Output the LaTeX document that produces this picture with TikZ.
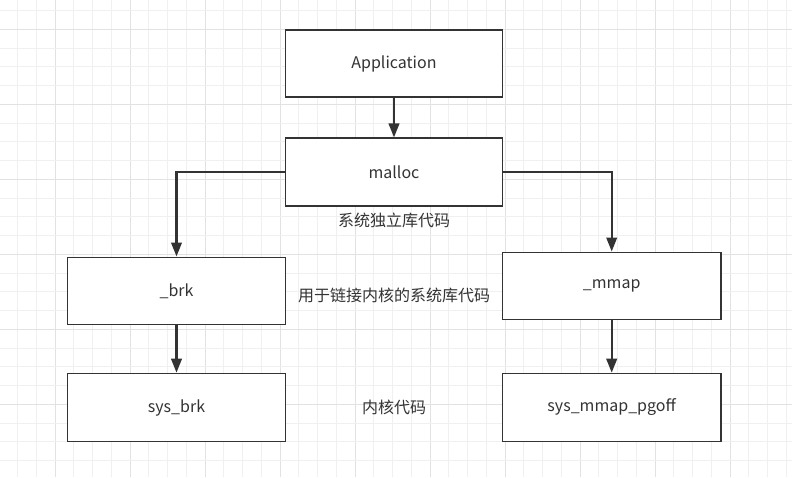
\documentclass[tikz,border=0pt]{standalone}
\usepackage{fontspec}
\newfontfamily\cjk{Noto Sans CJK SC}
\usetikzlibrary{arrows.meta}
\definecolor{ink}{RGB}{51,51,51}
\definecolor{gridminor}{RGB}{240,240,240}
\definecolor{gridmajor}{RGB}{226,226,226}
\tikzset{
  x=1pt, y=-1pt,
  every node/.style={font=\cjk\fontsize{16}{19}\selectfont, text=ink},
  box/.style={draw=ink, line width=1.6pt, fill=white, inner sep=0pt, minimum height=67.5pt},
  conn/.style={draw=ink, line width=2.3pt, -{Triangle[length=14pt,width=10.5pt]}},
  lbl/.style={inner sep=0pt}
}
\begin{document}
\begin{tikzpicture}
\useasboundingbox (0,0) rectangle (792,477);
\fill[white] (0,0) rectangle (792,477);
% grid
\foreach \i in {0,...,42} {
  \pgfmathsetmacro{\gx}{17.5+18.75*\i}
  \pgfmathtruncatemacro{\mj}{mod(\i+2,4)==0 ? 1 : 0}
  \ifnum\mj=1
    \draw[gridmajor, line width=1pt] (\gx,0) -- (\gx,477);
  \else
    \draw[gridminor, line width=1pt] (\gx,0) -- (\gx,477);
  \fi
}
\foreach \i in {0,...,25} {
  \pgfmathsetmacro{\gy}{10.55+18.75*\i}
  \pgfmathtruncatemacro{\mj}{mod(\i+3,4)==0 ? 1 : 0}
  \ifnum\mj=1
    \draw[gridmajor, line width=1pt] (0,\gy) -- (792,\gy);
  \else
    \draw[gridminor, line width=1pt] (0,\gy) -- (792,\gy);
  \fi
}
% boxes
\node[box, minimum width=217pt] (app) at (394,63.5) {Application};
\node[box, minimum width=217pt] (malloc) at (394,172) {malloc};
\node[box, minimum width=218pt, minimum height=67pt] (brk) at (176.5,290.8) {\_brk};
\node[box, minimum width=218pt, minimum height=68pt] (sysbrk) at (176.5,407.5) {sys\_brk};
\node[box, minimum width=218.7pt, minimum height=67pt] (mmap) at (611.7,285.8) {\_mmap};
\node[box, minimum width=218.7pt, minimum height=68pt] (sysmmap) at (611.7,407.5) {sys\_mmap\_pgoff};
% labels
\node[lbl] (l1) at (394,220) {系统独立库代码};
\node[lbl] (l2) at (394,295.5) {用于链接内核的系统库代码};
\node[lbl] (l3) at (394,407.5) {内核代码};
% connectors
\draw[conn] (app.south) -- (malloc.north);
\draw[conn] (malloc.west) -| (brk.north);
\draw[conn] (malloc.east) -| (mmap.north);
\draw[conn] (brk.south) -- (sysbrk.north);
\draw[conn] (mmap.south) -- (sysmmap.north);
\end{tikzpicture}
\end{document}
